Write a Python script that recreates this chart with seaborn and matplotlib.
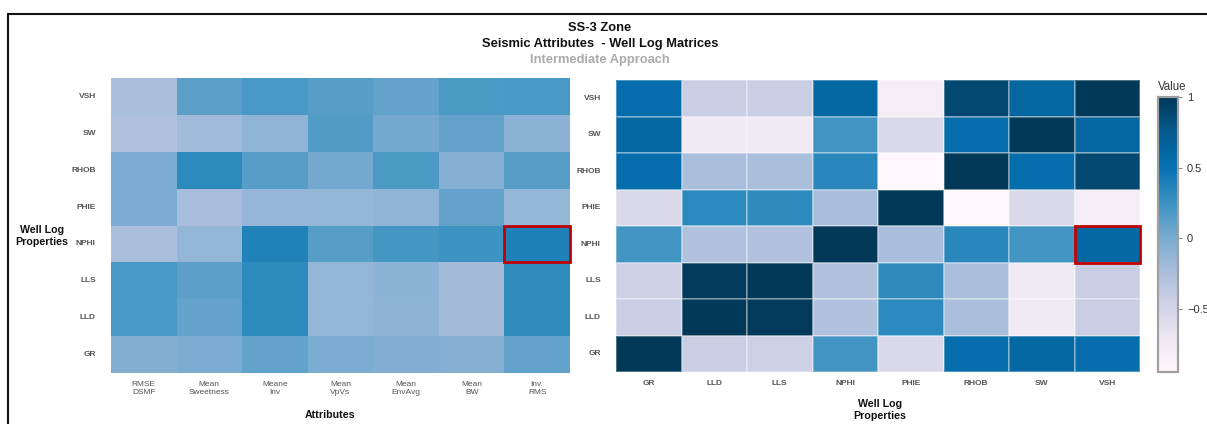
import numpy as np
import pandas as pd
import seaborn as sns
import matplotlib
matplotlib.use("Agg")
import matplotlib.pyplot as plt
from matplotlib.patches import Rectangle

# Row order shown from top to bottom
log_rows = ["VSH", "SW", "RHOB", "PHIE", "NPHI", "LLS", "LLD", "GR"]
# Well-log columns (right matrix)
log_cols = ["GR", "LLD", "LLS", "NPHI", "PHIE", "RHOB", "SW", "VSH"]
# Seismic attribute columns (left matrix)
attr_cols = ["RMSE\nDSMF", "Mean\nSweetness", "Meane\nInv", "Mean\nVpVs",
             "Mean\nEnvAvg", "Mean\nBW", "Inv.\nRMS"]

# Attribute vs well-log correlations (rows follow log_rows)
attr_vsh = [-0.24, 0.12, 0.19, 0.14, 0.09, 0.18, 0.19]
attr_sw = [-0.27, -0.19, -0.11, 0.16, 0.02, 0.10, -0.09]
attr_rhob = [-0.01, 0.31, 0.14, 0.02, 0.18, -0.06, 0.14]
attr_phie = [-0.01, -0.22, -0.14, -0.13, -0.11, 0.09, -0.13]
attr_nphi = [-0.24, -0.12, 0.37, 0.14, 0.21, 0.24, 0.38]
attr_lls = [0.19, 0.12, 0.31, -0.12, -0.09, -0.21, 0.29]
attr_lld = [0.19, 0.10, 0.31, -0.12, -0.10, -0.21, 0.29]
attr_gr = [-0.05, -0.01, 0.09, -0.01, -0.04, -0.06, 0.10]

# Well-log vs well-log correlations (rows follow log_rows, columns log_cols)
log_vsh = [0.55, -0.42, -0.42, 0.60, -0.80, 0.88, 0.62, 1.00]
log_sw = [0.60, -0.75, -0.75, 0.22, -0.55, 0.55, 1.00, 0.62]
log_rhob = [0.55, -0.24, -0.24, 0.33, -0.95, 1.00, 0.55, 0.88]
log_phie = [-0.55, 0.32, 0.30, -0.23, 1.00, -0.95, -0.55, -0.80]
log_nphi = [0.22, -0.28, -0.28, 1.00, -0.23, 0.33, 0.22, 0.60]
log_lls = [-0.45, 0.98, 1.00, -0.28, 0.30, -0.24, -0.75, -0.42]
log_lld = [-0.43, 1.00, 0.98, -0.28, 0.32, -0.24, -0.75, -0.42]
log_gr = [1.00, -0.43, -0.45, 0.22, -0.55, 0.55, 0.60, 0.55]

# Highlighted cells: (row label, column index)
highlight_left = ("NPHI", 6)
highlight_right = ("NPHI", 7)

attr_df = pd.DataFrame([attr_vsh, attr_sw, attr_rhob, attr_phie, attr_nphi,
                        attr_lls, attr_lld, attr_gr],
                       index=log_rows, columns=attr_cols)
log_df = pd.DataFrame([log_vsh, log_sw, log_rhob, log_phie, log_nphi,
                       log_lls, log_lld, log_gr],
                      index=log_rows, columns=log_cols)

sns.set_style("white")
plt.rcParams["font.family"] = ["Liberation Sans", "DejaVu Sans"]

W, H = 1207, 424
fig = plt.figure(figsize=(W / 100, H / 100), dpi=100)


def px_axes(x0, y0, x1, y1):
    return fig.add_axes([x0 / W, 1 - y1 / H, (x1 - x0) / W, (y1 - y0) / H])


ax_l = px_axes(111, 78, 570, 373)
ax_r = px_axes(616, 80, 1140, 372)
ax_cb = px_axes(1158, 97, 1178, 372)

vmin, vmax = -0.95, 1.0

sns.heatmap(attr_df, ax=ax_l, cbar=False, cmap="PuBu", vmin=vmin, vmax=vmax,
            linewidths=0)
sns.heatmap(log_df, ax=ax_r, cbar_ax=ax_cb, cmap="PuBu", vmin=vmin,
            vmax=vmax, linewidths=0.3, linecolor=(1, 1, 1, 0.3))

tick_color = "#555555"
for ax in (ax_l, ax_r):
    ax.tick_params(axis="both", length=0, labelcolor=tick_color)
    ax.tick_params(axis="y", pad=11, labelsize=6)
    ax.tick_params(axis="x", pad=6, labelsize=6)
    plt.setp(ax.get_yticklabels(), rotation=0, fontweight="bold")
    plt.setp(ax.get_xticklabels(), rotation=0)
    ax.set_xlabel("")
    ax.set_ylabel("")

plt.setp(ax_r.get_xticklabels(), fontweight="bold")

# Highlight boxes
for ax, (row, col) in ((ax_l, highlight_left), (ax_r, highlight_right)):
    r = log_rows.index(row)
    ax.add_patch(Rectangle((col, r), 1, 1, fill=False, ec="#c00000", lw=2,
                           clip_on=False, zorder=5))

# Colorbar styling
ax_cb.tick_params(labelsize=8, labelcolor="#333333", length=3,
                  color="#888888", width=0.8)
ax_cb.set_yticks([-0.5, 0, 0.5, 1])
ax_cb.set_yticklabels(["\u22120.5", "0", "0.5", "1"])
for sp in ax_cb.spines.values():
    sp.set_visible(True)
    sp.set_edgecolor("#a0a0a0")
    sp.set_linewidth(1.5)
fig.text(1172 / W, 1 - 87 / H, "Value", ha="center", va="center",
         fontsize=8.3, color="#333333")

# Titles
fig.text(600 / W, 1 - 28 / H, "SS-3 Zone", ha="center", va="center",
         fontsize=9.3, fontweight="bold", color="#111111")
fig.text(600 / W, 1 - 44 / H, "Seismic Attributes  - Well Log Matrices",
         ha="center", va="center", fontsize=9.3, fontweight="bold",
         color="#111111")
fig.text(600 / W, 1 - 60 / H, "Intermediate Approach", ha="center",
         va="center", fontsize=9.3, fontweight="bold", color="#aaaaaa")

# Axis titles
fig.text(42 / W, 1 - 236 / H, "Well Log\nProperties", ha="center",
         va="center", fontsize=7.7, fontweight="bold", color="#111111",
         linespacing=1.3)
fig.text(330 / W, 1 - 415 / H, "Attributes", ha="center", va="center",
         fontsize=7.7, fontweight="bold", color="#111111")
fig.text(880 / W, 1 - 410 / H, "Well Log\nProperties", ha="center",
         va="center", fontsize=7.7, fontweight="bold", color="#111111",
         linespacing=1.3)

# Outer frame
fig.add_artist(Rectangle((8 / W, -0.1), 1.2, 1.1 - 14 / H,
                         transform=fig.transFigure, fill=False,
                         ec="#111111", lw=1.5))

fig.savefig("out.png", dpi=100)
